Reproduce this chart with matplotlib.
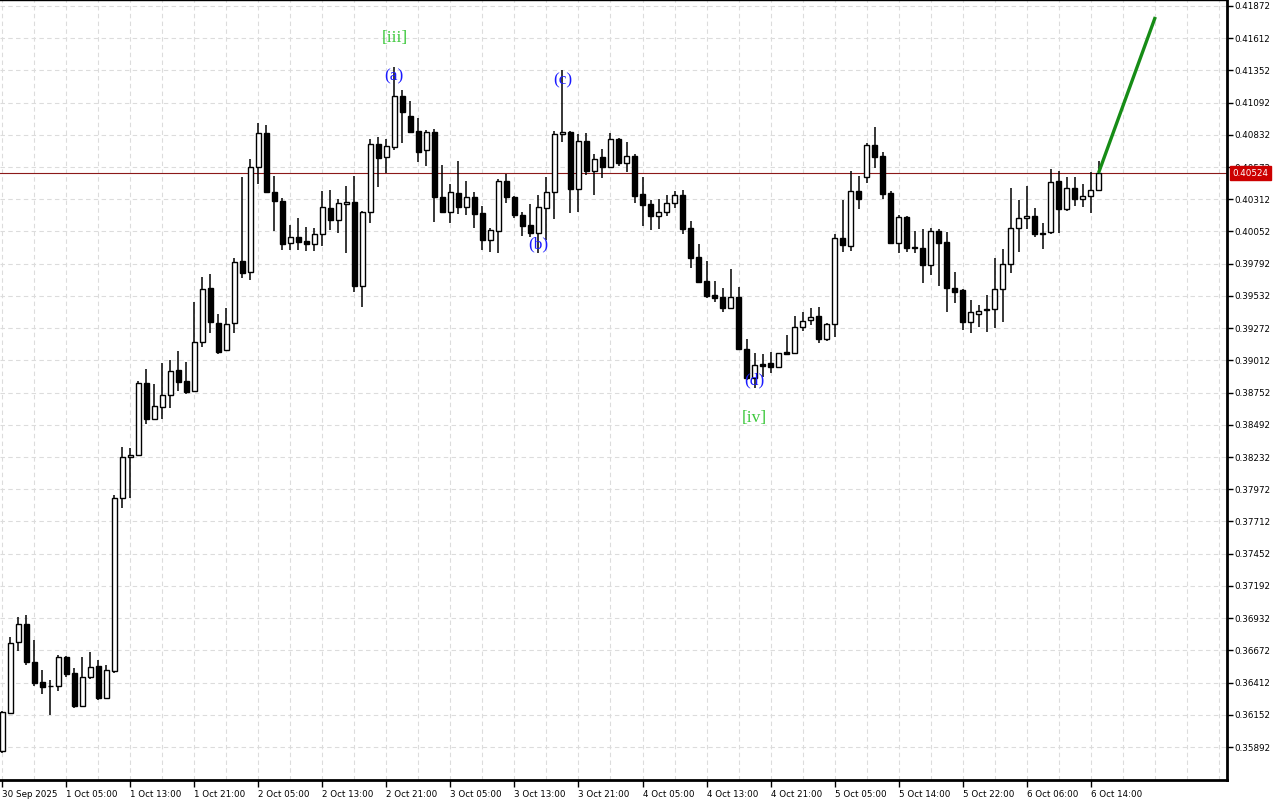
import numpy as np
import matplotlib
matplotlib.use("Agg")
from matplotlib import pyplot as plt

# Hourly OHLC
opens = [0.35860, 0.36167, 0.36739, 0.36885, 0.36578, 0.36417, 0.36384, 0.36384, 0.36618, 0.36489,
         0.36223, 0.36457, 0.36546, 0.36288, 0.36505, 0.37902, 0.38232, 0.38249, 0.38830, 0.38539,
         0.38636, 0.38733, 0.38935, 0.38846, 0.38765, 0.39160, 0.39596, 0.39314, 0.39096, 0.39314,
         0.39814, 0.39725, 0.40573, 0.40847, 0.40371, 0.40298, 0.39959, 0.40008, 0.39976, 0.39951,
         0.40032, 0.40242, 0.40145, 0.40277, 0.40290, 0.39612, 0.40210, 0.40758, 0.40653, 0.40734,
         0.41146, 0.40984, 0.40863, 0.40710, 0.40855, 0.40331, 0.40210, 0.40363, 0.40250, 0.40331,
         0.40202, 0.39984, 0.40056, 0.40460, 0.40331, 0.40185, 0.40105, 0.40040, 0.40242, 0.40371,
         0.40839, 0.40855, 0.40395, 0.40783, 0.40540, 0.40653, 0.40573, 0.40799, 0.40605, 0.40662,
         0.40355, 0.40274, 0.40177, 0.40210, 0.40282, 0.40347, 0.40081, 0.39846, 0.39653, 0.39540,
         0.39524, 0.39435, 0.39524, 0.39104, 0.38870, 0.38983, 0.38991, 0.38959, 0.39080, 0.39072,
         0.39282, 0.39338, 0.39370, 0.39185, 0.39306, 0.40000, 0.39935, 0.40379, 0.40492, 0.40750,
         0.40662, 0.40363, 0.39959, 0.40169, 0.39930, 0.39919, 0.39782, 0.40056, 0.39968, 0.39596,
         0.39580, 0.39322, 0.39386, 0.39427, 0.39427, 0.39588, 0.39790, 0.40081, 0.40161, 0.40177,
         0.40038, 0.40048, 0.40460, 0.40234, 0.40403, 0.40315, 0.40339, 0.40387]
highs = [0.36180, 0.36780, 0.36941, 0.36957, 0.36756, 0.36514, 0.36433, 0.36635, 0.36626, 0.36530,
         0.36618, 0.36659, 0.36594, 0.36554, 0.37926, 0.38313, 0.38305, 0.38846, 0.38943, 0.38822,
         0.38991, 0.39015, 0.39088, 0.38999, 0.39483, 0.39685, 0.39709, 0.39386, 0.39435, 0.39838,
         0.40492, 0.40637, 0.40928, 0.40912, 0.40500, 0.40323, 0.40105, 0.40161, 0.40089, 0.40081,
         0.40379, 0.40387, 0.40315, 0.40419, 0.40500, 0.40218, 0.40799, 0.40815, 0.40799, 0.41380,
         0.41194, 0.41105, 0.40968, 0.40871, 0.40879, 0.40589, 0.40436, 0.40621, 0.40460, 0.40371,
         0.40258, 0.40081, 0.40476, 0.40516, 0.40340, 0.40210, 0.40274, 0.40347, 0.40492, 0.40863,
         0.41356, 0.40860, 0.40839, 0.40847, 0.40678, 0.40718, 0.40847, 0.40805, 0.40774, 0.40678,
         0.40492, 0.40306, 0.40315, 0.40347, 0.40379, 0.40387, 0.40137, 0.39951, 0.39814, 0.39653,
         0.39596, 0.39750, 0.39604, 0.39185, 0.39072, 0.39064, 0.39080, 0.39075, 0.39217, 0.39370,
         0.39403, 0.39435, 0.39443, 0.39314, 0.40032, 0.40306, 0.40540, 0.40500, 0.40766, 0.40896,
         0.40694, 0.40380, 0.40185, 0.40175, 0.40056, 0.40072, 0.40081, 0.40072, 0.40048, 0.39725,
         0.39585, 0.39499, 0.39459, 0.39540, 0.39838, 0.39911, 0.40403, 0.40306, 0.40419, 0.40242,
         0.40121, 0.40557, 0.40540, 0.40492, 0.40492, 0.40436, 0.40532, 0.40621]
lows = [0.35845, 0.36160, 0.36667, 0.36554, 0.36384, 0.36320, 0.36150, 0.36344, 0.36457, 0.36207,
        0.36215, 0.36441, 0.36271, 0.36280, 0.36489, 0.37821, 0.37902, 0.38240, 0.38499, 0.38535,
        0.38539, 0.38628, 0.38765, 0.38741, 0.38760, 0.39120, 0.39233, 0.39064, 0.39088, 0.39233,
        0.39677, 0.39661, 0.40436, 0.40363, 0.40056, 0.39903, 0.39903, 0.39903, 0.39895, 0.39895,
        0.39935, 0.40064, 0.40040, 0.39879, 0.39564, 0.39443, 0.40121, 0.40411, 0.40524, 0.40710,
        0.40766, 0.40850, 0.40613, 0.40581, 0.40129, 0.40202, 0.40121, 0.40193, 0.40185, 0.40081,
        0.39903, 0.39887, 0.39879, 0.40282, 0.40161, 0.40016, 0.40008, 0.39879, 0.39984, 0.40153,
        0.40774, 0.40202, 0.40210, 0.40508, 0.40347, 0.40484, 0.40570, 0.40581, 0.40532, 0.40282,
        0.40097, 0.40064, 0.40072, 0.40177, 0.40242, 0.40032, 0.39758, 0.39637, 0.39516, 0.39483,
        0.39403, 0.39427, 0.39100, 0.38854, 0.38789, 0.38878, 0.38910, 0.38950, 0.39060, 0.39068,
        0.39249, 0.39298, 0.39152, 0.39169, 0.39201, 0.39887, 0.39895, 0.40234, 0.40444, 0.40565,
        0.40315, 0.39951, 0.39879, 0.39887, 0.39879, 0.39637, 0.39701, 0.39612, 0.39403, 0.39475,
        0.39257, 0.39233, 0.39282, 0.39241, 0.39274, 0.39322, 0.39717, 0.39887, 0.40072, 0.40008,
        0.39911, 0.40030, 0.40040, 0.40218, 0.40258, 0.40250, 0.40202, 0.40380]
closes = [0.36175, 0.36731, 0.36885, 0.36578, 0.36409, 0.36376, 0.36384, 0.36618, 0.36481, 0.36223,
          0.36457, 0.36538, 0.36288, 0.36514, 0.37902, 0.38232, 0.38249, 0.38830, 0.38539, 0.38644,
          0.38733, 0.38926, 0.38838, 0.38757, 0.39160, 0.39588, 0.39322, 0.39080, 0.39306, 0.39806,
          0.39717, 0.40573, 0.40847, 0.40371, 0.40298, 0.39951, 0.40008, 0.39968, 0.39951, 0.40032,
          0.40250, 0.40145, 0.40282, 0.40293, 0.39612, 0.40210, 0.40758, 0.40645, 0.40742, 0.41146,
          0.41017, 0.40855, 0.40694, 0.40855, 0.40331, 0.40210, 0.40371, 0.40250, 0.40331, 0.40193,
          0.39984, 0.40064, 0.40460, 0.40331, 0.40185, 0.40097, 0.40040, 0.40250, 0.40371, 0.40839,
          0.40855, 0.40395, 0.40783, 0.40540, 0.40637, 0.40573, 0.40799, 0.40605, 0.40662, 0.40339,
          0.40266, 0.40177, 0.40210, 0.40282, 0.40347, 0.40072, 0.39838, 0.39645, 0.39532, 0.39516,
          0.39435, 0.39524, 0.39104, 0.38870, 0.38975, 0.38967, 0.38959, 0.39072, 0.39064, 0.39282,
          0.39330, 0.39362, 0.39185, 0.39306, 0.40000, 0.39943, 0.40379, 0.40315, 0.40750, 0.40653,
          0.40355, 0.39959, 0.40169, 0.39919, 0.39917, 0.39782, 0.40056, 0.39959, 0.39596, 0.39564,
          0.39322, 0.39403, 0.39411, 0.39419, 0.39588, 0.39790, 0.40081, 0.40161, 0.40177, 0.40032,
          0.40030, 0.40452, 0.40234, 0.40403, 0.40315, 0.40339, 0.40387, 0.40524]

time_labels = ["30 Sep 2025", "1 Oct 05:00", "1 Oct 13:00", "1 Oct 21:00", "2 Oct 05:00",
               "2 Oct 13:00", "2 Oct 21:00", "3 Oct 05:00", "3 Oct 13:00", "3 Oct 21:00",
               "4 Oct 05:00", "4 Oct 13:00", "4 Oct 21:00", "5 Oct 05:00", "5 Oct 14:00",
               "5 Oct 22:00", "6 Oct 06:00", "6 Oct 14:00"]
price_ticks = [0.35892 + 0.0026 * k for k in range(24)]
last_price = 0.40524

# wave labels: (text, bar index, price, colour)
wave_labels = [("[iii]", 49, 0.41614, "#3cc83c"), ("(a)", 48.9, 0.41307, "#1a1aff"),
               ("(c)", 70, 0.41275, "#1a1aff"), ("(b)", 67, 0.39951, "#1a1aff"),
               ("(d)", 94, 0.38854, "#1a1aff"), ("[iv]", 94, 0.38547, "#3cc83c")]
# forecast arrow: from last close to target
arrow_x = [137, 144.1]
arrow_y = [0.40524, 0.41783]

o, h, l, c = map(np.array, (opens, highs, lows, closes))
x = np.arange(len(o))

fig = plt.figure(figsize=(12.8, 8), dpi=100)
ax = fig.add_axes([0, 20 / 800, 1227 / 1280, 780 / 800])

ax.set_xlim(-0.31, 153.06)
ax.set_ylim(0.35626, 0.41920)

# grid
for gx in np.arange(0, 154, 4):
    ax.axvline(gx, color="#dcdcdc", lw=0.8, ls=(0, (4, 3)), zorder=0)
for gy in price_ticks:
    ax.axhline(gy, color="#dcdcdc", lw=0.8, ls=(0, (4, 3)), zorder=0)

# candles
ax.vlines(x, l, h, color="black", lw=1.1, zorder=2)
up = c >= o
body_lo = np.minimum(o, c)
body_h = np.abs(c - o)
ax.bar(x, body_h, bottom=body_lo, width=0.6,
       color=np.where(up, "white", "black"), edgecolor="black", linewidth=1.0, zorder=3)

# last price line
ax.axhline(last_price, color="#8c1a1a", lw=0.8, zorder=1)

# forecast arrow
ax.plot(arrow_x, arrow_y, color="#168c16", lw=2.4, solid_capstyle="butt", zorder=4)

for txt, xi, yi, col in wave_labels:
    ax.text(xi, yi, txt, color=col, fontsize=12.5, family="Liberation Serif",
            ha="center", va="center", zorder=5)

# axes styling
ax.spines["left"].set_visible(False)
ax.spines["top"].set_linewidth(1.0)
ax.spines["right"].set_linewidth(2.0)
ax.spines["bottom"].set_linewidth(2.0)

ax.yaxis.tick_right()
ax.set_yticks(price_ticks)
ax.set_yticklabels([f"{p:.5f}" for p in price_ticks])
ax.tick_params(axis="y", direction="out", length=4, width=1, pad=1, labelsize=6.3)

ax.set_xticks(np.arange(0, 8 * len(time_labels), 8))
ax.set_xticklabels(time_labels, ha="left")
ax.tick_params(axis="x", direction="out", length=5, width=1, pad=2, labelsize=6.3)

# price tag on the right axis
ax.annotate(f"{last_price:.5f}", xy=(1.0, last_price), xycoords=("axes fraction", "data"),
            xytext=(4, 0), textcoords="offset points", ha="left", va="center",
            fontsize=6.3, color="white",
            bbox=dict(boxstyle="square,pad=0.25", fc="#cc0000", ec="#cc0000"),
            annotation_clip=False, zorder=10)

fig.savefig("out.png", dpi=100)
